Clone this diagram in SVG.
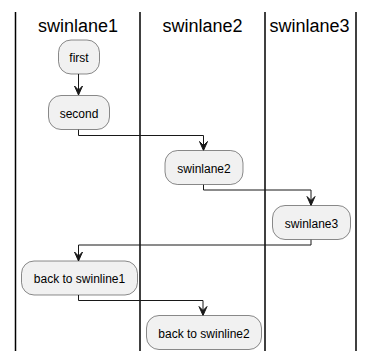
<svg xmlns="http://www.w3.org/2000/svg" width="373" height="361" viewBox="0 0 373 361">
  <defs>
    <style>
      .lane { stroke: #000000; stroke-width: 1.5; fill: none; }
      .title { font-family: "Liberation Sans", Arial, sans-serif; font-size: 18px; fill: #000000; text-anchor: middle; }
      .box { fill: #F1F1F1; stroke: #181818; stroke-width: 0.5; }
      .label { font-family: "Liberation Sans", Arial, sans-serif; font-size: 12px; fill: #000000; text-anchor: middle; }
      .flow { stroke: #181818; stroke-width: 1; fill: none; }
      .head { fill: #181818; stroke: #181818; stroke-width: 1; }
    </style>
  </defs>
  <rect width="373" height="361" fill="#FFFFFF"/>

  <!-- swimlane dividers and titles -->
  <g id="lanes">
    <line class="lane" x1="15.5" y1="12" x2="15.5" y2="351"/>
    <line class="lane" x1="140" y1="12" x2="140" y2="351"/>
    <line class="lane" x1="265" y1="12" x2="265" y2="351"/>
    <line class="lane" x1="356" y1="12" x2="356" y2="351"/>
    <text class="title" x="78" y="32">swinlane1</text>
    <text class="title" x="202.5" y="32">swinlane2</text>
    <text class="title" x="309.5" y="32">swinlane3</text>
  </g>

  <!-- connectors: elbow paths with notched arrowheads -->
  <g id="connectors">
    <path class="flow" d="M78.5,74 V95"/>
    <polygon class="head" points="74.5,86 78.5,95 82.5,86 78.5,90"/>
    <path class="flow" d="M78.5,129.5 V135.5 H203.5 V150.5"/>
    <polygon class="head" points="199.5,141.5 203.5,150.5 207.5,141.5 203.5,145.5"/>
    <path class="flow" d="M203.5,184.5 V190 H311 V205.5"/>
    <polygon class="head" points="307,196.5 311,205.5 315,196.5 311,200.5"/>
    <path class="flow" d="M311,239.5 V245 H78.5 V261"/>
    <polygon class="head" points="74.5,252 78.5,261 82.5,252 78.5,256"/>
    <path class="flow" d="M78.5,295 V300.5 H203 V315.5"/>
    <polygon class="head" points="199,306.5 203,315.5 207,306.5 203,310.5"/>
  </g>

  <!-- activities -->
  <g id="first">
    <rect class="box" x="58.5" y="40" width="41" height="34" rx="12.5"/>
    <text class="label" x="79" y="62">first</text>
  </g>
  <g id="second">
    <rect class="box" x="48.5" y="95.5" width="61" height="34" rx="12.5"/>
    <text class="label" x="79" y="117.5">second</text>
  </g>
  <g id="swinlane2">
    <rect class="box" x="165" y="150.5" width="78" height="34" rx="12.5"/>
    <text class="label" x="204" y="172.5">swinlane2</text>
  </g>
  <g id="swinlane3">
    <rect class="box" x="272.5" y="205.5" width="78" height="34" rx="12.5"/>
    <text class="label" x="311.5" y="227.5">swinlane3</text>
  </g>
  <g id="back-to-swinline1">
    <rect class="box" x="21.5" y="261" width="116" height="34" rx="12.5"/>
    <text class="label" x="79.5" y="283">back to swinline1</text>
  </g>
  <g id="back-to-swinline2">
    <rect class="box" x="146.5" y="315.5" width="115" height="34" rx="12.5"/>
    <text class="label" x="204" y="337.5">back to swinline2</text>
  </g>
</svg>
